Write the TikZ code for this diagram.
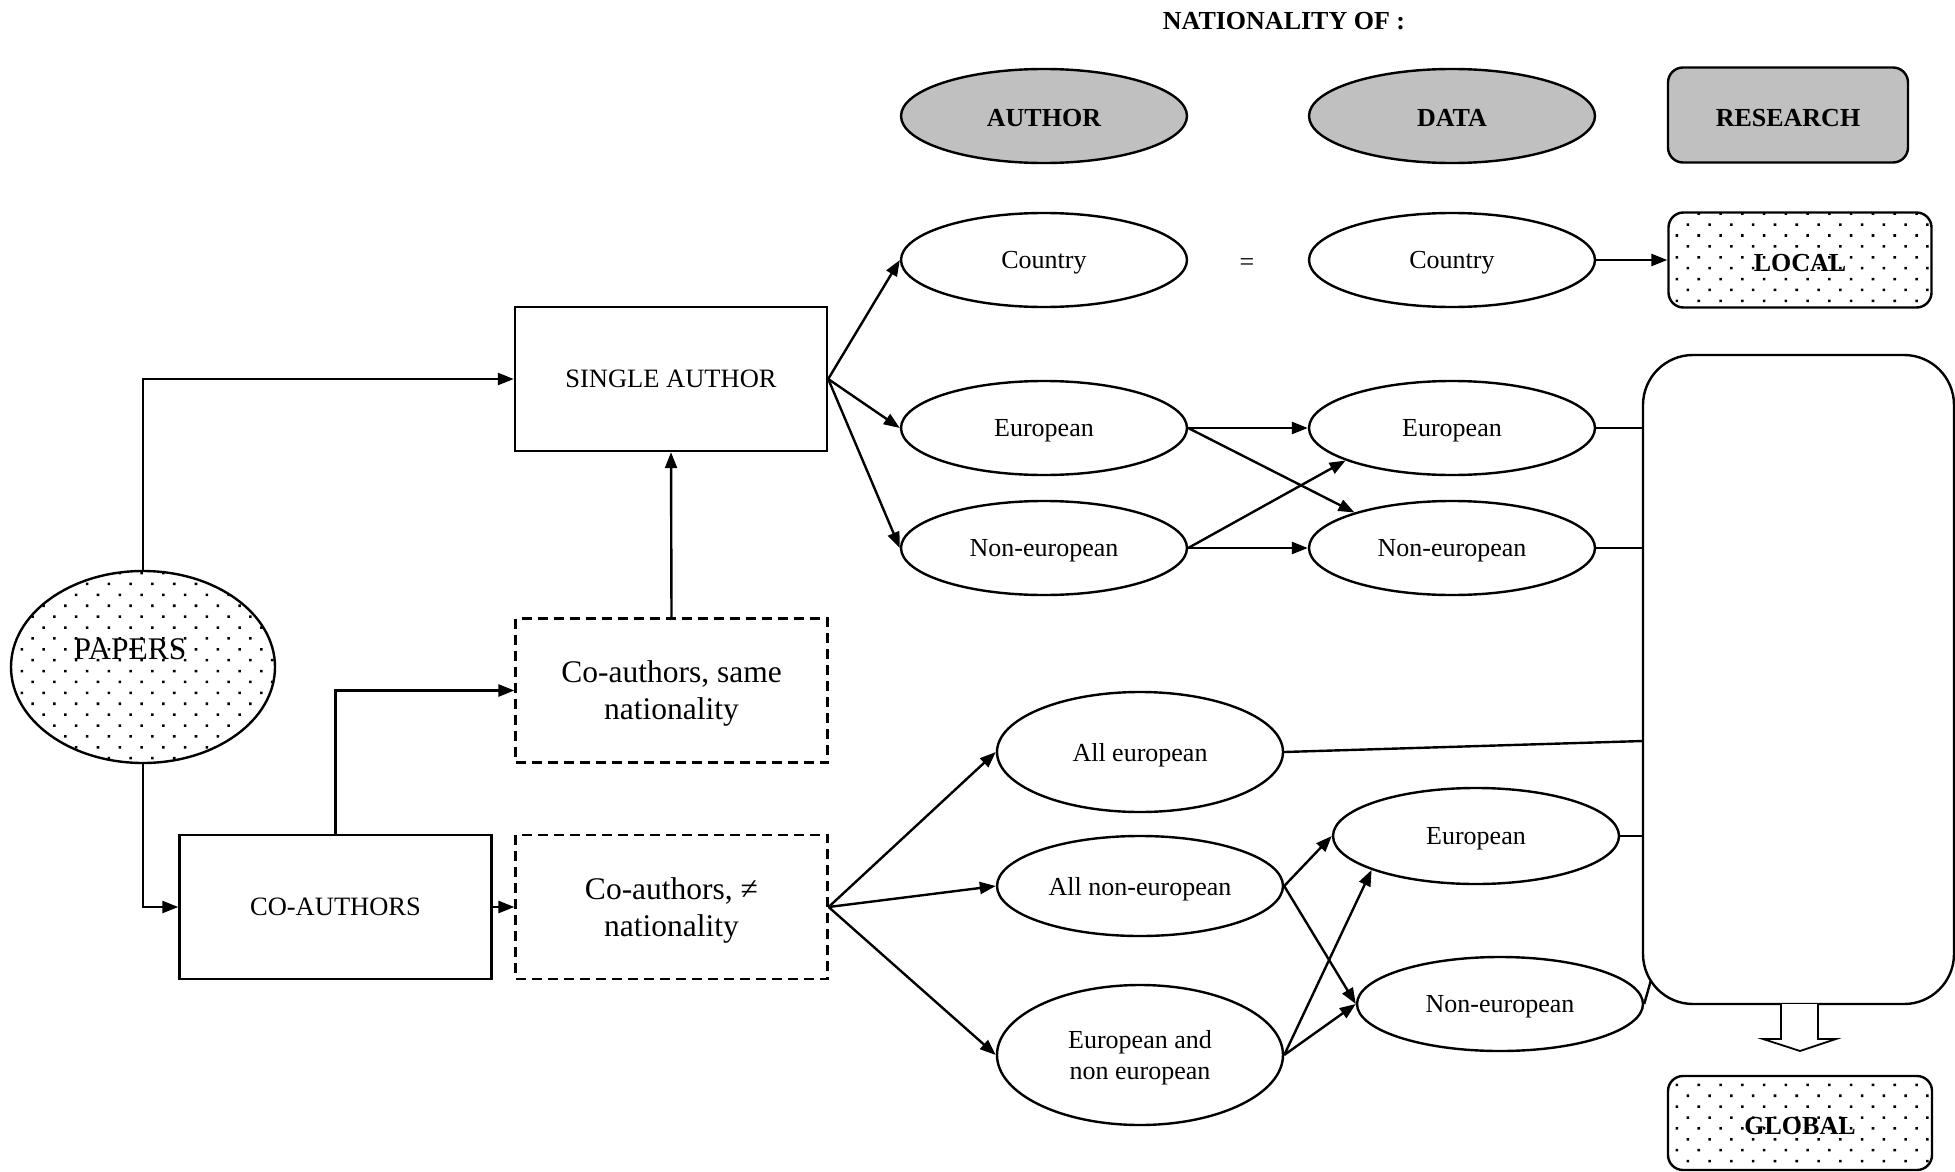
\documentclass[tikz,border=0pt]{standalone}
\usepackage{fontspec}
\setmainfont{Liberation Serif}
\usetikzlibrary{shapes.geometric,arrows.meta,patterns.meta,calc}
\definecolor{hgray}{RGB}{192,192,192}
\begin{document}
\begin{tikzpicture}[x=1pt,y=-1pt, line width=2.4pt,
 every node/.style={align=center, inner sep=0pt, text depth=0pt},
 ell/.style={draw, ellipse, minimum width=286pt, minimum height=94pt, font=\fontsize{26}{31}\selectfont},
 hdrell/.style={ell, fill=hgray, text height=21pt, font=\fontsize{26}{31}\selectfont\bfseries},
 box/.style={draw, rectangle, minimum width=312pt, minimum height=144pt, font=\fontsize{26.5}{32}\selectfont},
 dbox/.style={box, dash pattern=on 10pt off 6pt, line width=2.2pt, font=\fontsize{31.5}{37}\selectfont},
 rbox/.style={draw, rectangle, rounded corners=15pt, minimum height=95pt, text height=22pt, font=\fontsize{26}{31}\selectfont\bfseries},
 dotfill/.style={pattern={Dots[angle=45,distance=15.4pt,radius=1.8pt]}},
 arr/.style={-{Triangle[length=16pt,width=12pt]}},
]
\fill[white] (0,0) rectangle (1955,1172);
\useasboundingbox (0,0) rectangle (1955,1172);

% header
\node[font=\fontsize{26}{31}\selectfont\bfseries] (nat) at (1284,21) {NATIONALITY OF :};
\node[hdrell] (hauth) at (1044,116) {AUTHOR};
\node[hdrell] (hdata) at (1452,116) {DATA};
\node[rbox, fill=hgray, minimum width=240pt] (hres) at (1788,115) {RESEARCH};

% country row
\node[ell] (actry) at (1044,260) {Country};
\node[font=\fontsize{26}{31}\selectfont] (eq) at (1247,265) {=};
\node[ell] (dctry) at (1452,260) {Country};
\node[rbox, dotfill, minimum width=263pt] (local) at (1800,260) {LOCAL};

% single author
\node[box] (sa) at (671,379) {SINGLE AUTHOR};
\node[ell] (aeu) at (1044,428) {European};
\node[ell] (ane) at (1044,548) {Non-european};
\node[ell] (deu) at (1452,428) {European};
\node[ell] (dne) at (1452,548) {Non-european};

% big box
\node[draw, rectangle, rounded corners=50pt, minimum width=311pt, minimum height=649pt] (big) at (1798.5,679.5) {};

% papers
\node[draw, ellipse, dotfill, minimum width=264pt, minimum height=192pt] (papers) at (143,667) {};
\node[font=\fontsize{31.5}{37}\selectfont] (paperst) at (130,649) {PAPERS};

% co-authors
\node[box] (co) at (335.5,907) {CO-AUTHORS};
\node[dbox] (cs) at (671.5,690.5) {Co-authors, same\\nationality};
\node[dbox] (cn) at (671.5,907) {Co-authors, ≠\\nationality};

% lower ellipses
\node[ell, minimum height=120pt] (ae) at (1140,752) {All european};
\node[ell, minimum height=100pt] (ane2) at (1140,886) {All non-european};
\node[ell, minimum height=140pt] (ene) at (1140,1055) {European and\\non european};
\node[ell, minimum height=96pt] (lde) at (1476,836) {European};
\node[ell, minimum height=94pt] (ldn) at (1500,1004) {Non-european};

% global
\node[rbox, dotfill, minimum width=264pt, minimum height=94pt] (global) at (1800,1123) {GLOBAL};

% hollow arrow
\draw[line width=1.8pt, fill=white] (1781,1004) -- (1781,1039) -- (1763,1039) -- (1800,1051) -- (1836,1039) -- (1818,1039) -- (1818,1004);

% connectors
\draw[arr] (papers.north) |- (sa.west);
\draw[arr] (papers.south) |- (co.west);
\draw[arr] (co.north) |- (cs.west);
\draw[arr] (co.east) -- (cn.west);
\draw[arr] (cs.north) -- (sa.south);
\draw[arr] (sa.east) -- (actry.west);
\draw[arr] (sa.east) -- (aeu.west);
\draw[arr] (sa.east) -- (ane.west);
\draw[arr] (dctry.east) -- (local.west);
\draw[arr] (aeu.east) -- (deu.west);
\draw[arr] (aeu.east) -- (dne.160);
\draw[arr] (ane.east) -- (deu.197);
\draw[arr] (ane.east) -- (dne.west);
\draw (deu.east) -- (deu.east -| big.west);
\draw (dne.east) -- (dne.east -| big.west);

\draw[arr] (cn.east) -- (ae.west);
\draw[arr] (cn.east) -- (ane2.west);
\draw[arr] (cn.east) -- (ene.west);
\coordinate (bae) at (1643,741);
\draw (ae.east) -- (bae);
\draw (lde.east) -- (lde.east -| big.west);
\coordinate (bcorner) at (1651,980);
\draw (ldn.east) -- (bcorner);
\draw[arr] (ane2.east) -- (lde.west);
\draw[arr] (ane2.east) -- (ldn.west);
\draw[arr] (ene.east) -- (lde.198);
\draw[arr] (ene.east) -- (ldn.west);
\end{tikzpicture}
\end{document}
